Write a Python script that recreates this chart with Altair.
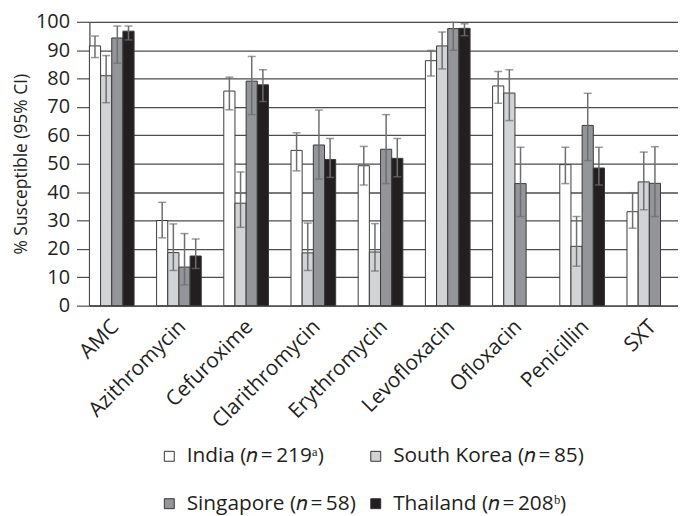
import altair as alt
import pandas as pd

drugs = ["AMC", "Azithromycin", "Cefuroxime", "Clarithromycin", "Erythromycin",
         "Levofloxacin", "Ofloxacin", "Penicillin", "SXT"]
countries = ["India (𝑛\u2009=\u2009219ᵃ)", "South Korea (𝑛\u2009=\u200985)",
             "Singapore (𝑛\u2009=\u200958)", "Thailand (𝑛\u2009=\u2009208ᵇ)"]
colors = ["#ffffff", "#d1d3d4", "#939598", "#231f20"]

india = [91.5, 30.0, 75.6, 54.7, 49.3, 86.3, 77.4, 49.7, 33.1]
india_lo = [87.4, 23.9, 69.0, 47.5, 42.5, 80.9, 71.3, 43.0, 27.3]
india_hi = [95.0, 36.4, 80.5, 60.9, 56.1, 89.9, 82.5, 55.8, 39.8]
korea = [81.0, 18.7, 36.1, 18.6, 18.9, 91.5, 74.9, 20.9, 43.6]
korea_lo = [71.5, 12.4, 27.6, 12.4, 12.2, 83.4, 65.2, 13.9, 33.8]
korea_hi = [88.1, 28.8, 47.1, 29.1, 28.9, 96.4, 83.1, 31.4, 54.1]
sing = [94.3, 13.6, 79.1, 56.6, 55.1, 97.6, 43.0, 63.5, 43.1]
sing_lo = [85.4, 7.3, 67.3, 44.6, 43.0, 90.0, 31.4, 51.1, 31.4]
sing_hi = [98.5, 25.4, 87.8, 68.9, 67.3, 99.8, 55.8, 74.8, 56.0]
thai = [96.7, 17.5, 77.8, 51.5, 51.9, 97.7, None, 48.5, None]
thai_lo = [93.6, 13.1, 71.9, 45.2, 45.4, 95.1, None, 42.5, None]
thai_hi = [98.5, 23.5, 83.1, 58.9, 58.9, 99.3, None, 55.8, None]

rows = []
for c, (v, lo, hi) in zip(countries, [(india, india_lo, india_hi), (korea, korea_lo, korea_hi),
                                     (sing, sing_lo, sing_hi), (thai, thai_lo, thai_hi)]):
    for d, a, b, e in zip(drugs, v, lo, hi):
        if a is None:
            continue
        rows.append({"drug": d, "country": c, "value": a, "lo": b, "hi": e})
df = pd.DataFrame(rows)

FONT = "Open Sans"
TXT = "#231f20"
yscale = alt.Scale(domain=[0, 100], nice=False)
yaxis = alt.Axis(title="% Susceptible (95% CI)", values=list(range(0, 101, 10)),
                 tickSize=13, tickColor="#4d4d4d", tickWidth=1.2,
                 labelPadding=7, titlePadding=5, labelFontSize=20, titleFontSize=17.5,
                 titleFontWeight="normal", labelColor=TXT, titleColor=TXT,
                 labelFont=FONT, titleFont=FONT,
                 domainColor="#4d4d4d", domainWidth=1.2,
                 grid=True, gridColor="#4d4d4d", gridWidth=1.3)

xenc = alt.X("drug:N", sort=drugs,
             scale=alt.Scale(domain=drugs, paddingInner=0.335, paddingOuter=0.047, align=0),
             axis=alt.Axis(title=None, labelAngle=-45, ticks=False, labelPadding=10,
                           labelOffset=-4,
                           labelFontSize=21, labelFont=FONT, labelColor=TXT,
                           domainColor="#4d4d4d", domainWidth=1.2, grid=False))
xoff = alt.XOffset("country:N", sort=countries,
                   scale=alt.Scale(domain=countries, paddingInner=0, paddingOuter=0))

base = alt.Chart(df).encode(x=xenc, xOffset=xoff)

bars = base.mark_bar(stroke="#3a3a3a", strokeWidth=1).encode(
    y=alt.Y("value:Q", scale=yscale, axis=yaxis),
    color=alt.Color("country:N", sort=countries,
                    scale=alt.Scale(domain=countries, range=colors),
                    legend=alt.Legend(title=None, orient="none", legendX=70, legendY=427,
                                      direction="horizontal",
                                      columns=2, columnPadding=9, rowPadding=26,
                                      symbolType="square", symbolSize=100,
                                      symbolStrokeColor="#333333", symbolStrokeWidth=1,
                                      labelFontSize=21, labelFont=FONT, labelColor=TXT,
                                      labelOffset=7, padding=0, labelLimit=400)),
)
err = base.mark_rule(color="#6d6e71", strokeWidth=1.5).encode(
    y=alt.Y("lo:Q", scale=yscale, axis=yaxis), y2="hi:Q")
cap_lo = base.mark_tick(color="#6d6e71", thickness=1.5, size=8).encode(
    y=alt.Y("lo:Q", scale=yscale, axis=yaxis))
cap_hi = base.mark_tick(color="#6d6e71", thickness=1.5, size=8).encode(
    y=alt.Y("hi:Q", scale=yscale, axis=yaxis))

chart = alt.layer(bars, err, cap_lo, cap_hi).properties(
    width=593, height=286,
    padding={"left": 4, "top": 2, "right": 0, "bottom": 0},
).configure_view(stroke=None).configure(background="white")

chart.save("out.html", embed_options={"renderer": "svg", "actions": False})
